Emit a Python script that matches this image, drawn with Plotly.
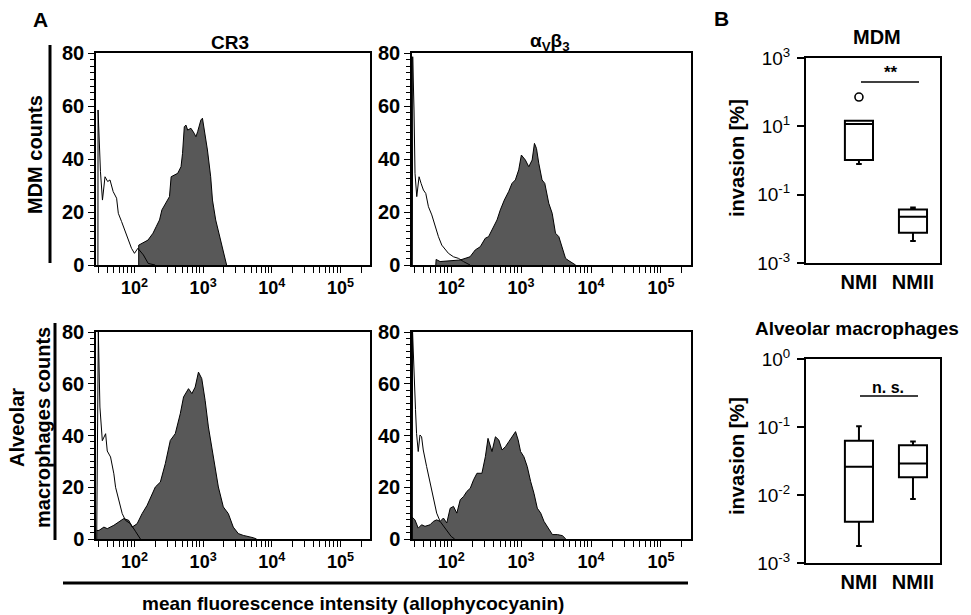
import numpy as np
import plotly.graph_objects as go

W, H = 971, 615
FONT = "Liberation Sans, Arial, sans-serif"

# ---------------- Panel A data (x in log10 intensity, y = counts) ----------------
cr3_mdm_stain_log = [2.062, 2.062, 2.197, 2.27, 2.317, 2.365, 2.40, 2.462, 2.51, 2.534, 2.63, 2.678, 2.70,
                     2.726, 2.75, 2.775, 2.822, 2.87, 2.895, 2.92, 2.967, 2.99, 3.025, 3.063, 3.11, 3.136,
                     3.183, 3.23, 3.28, 3.313, 3.342]
cr3_mdm_stain_cnt = [0, 7.5, 9.4, 12, 14.5, 17, 20.8, 23.9, 25.8, 33.3, 34.6, 37.1, 42.1, 52.2, 52.8, 50.9,
                     51.6, 49.7, 48.4, 50.3, 54.7, 55.4, 49.7, 43.4, 33.3, 24.5, 17, 12, 6.9, 3.1, 0]
cr3_mdm_iso_log = [1.468, 1.47, 1.505, 1.534, 1.571, 1.61, 1.644, 1.69, 1.74, 1.765, 1.812, 1.86, 1.91,
                   1.957, 2.0, 2.05, 2.13, 2.2, 2.3]
cr3_mdm_iso_cnt = [0, 58.5, 35.2, 24.5, 33.3, 31.5, 32.1, 27.7, 25.2, 19.5, 16.4, 13.2, 10.1, 6.3, 4.4,
                   6.3, 3.8, 0.6, 0]

avb3_mdm_stain_log = [1.78, 1.785, 1.842, 2.13, 2.27, 2.345, 2.416, 2.488, 2.535, 2.584, 2.656, 2.703, 2.76,
                      2.822, 2.87, 2.918, 2.966, 3.004, 3.062, 3.11, 3.158, 3.191, 3.22, 3.253, 3.30, 3.339,
                      3.396, 3.445, 3.492, 3.54, 3.588, 3.636, 3.684, 3.755, 3.78]
avb3_mdm_stain_cnt = [0, 2.1, 1.3, 1.9, 3.1, 5.7, 6.9, 10.1, 10.7, 13.2, 17, 20.8, 24.5, 27.7, 30.8, 32.1,
                      35.9, 41.5, 39.6, 37.1, 39.6, 45.9, 44, 38.4, 32.1, 30.8, 23.3, 19.5, 12, 10.7, 6.3,
                      2.5, 1.6, 0.6, 0]
avb3_mdm_iso_log = [1.445, 1.45, 1.469, 1.483, 1.508, 1.541, 1.57, 1.603, 1.637, 1.675, 1.723, 1.77, 1.818,
                    1.866, 1.914, 1.961, 2.033, 2.105, 2.176, 2.27]
avb3_mdm_iso_cnt = [0, 78.6, 58.5, 34.6, 25.8, 33.3, 30.8, 28.3, 27, 22, 18.9, 14.5, 10.7, 7.5, 5.7, 4.4,
                    3.1, 2.5, 1.3, 0]

cr3_am_stain_log = [1.45, 1.483, 1.555, 1.604, 1.70, 1.772, 1.845, 1.917, 1.966, 2.039, 2.111, 2.184, 2.256,
                    2.304, 2.377, 2.449, 2.522, 2.594, 2.667, 2.715, 2.787, 2.836, 2.884, 2.932, 2.98, 3.029,
                    3.077, 3.149, 3.222, 3.294, 3.367, 3.439, 3.512, 3.584, 3.657, 3.729, 3.778]
cr3_am_stain_cnt = [3.3, 3.3, 4.6, 4.0, 5.3, 6.6, 7.9, 7.2, 4.6, 5.9, 9.8, 13, 16.9, 20.1, 22, 29.1, 38.1,
                    40.7, 48.4, 54.9, 58.1, 56.2, 58.7, 64.5, 62, 53.6, 43.3, 31.7, 20.1, 12.4, 9.8, 4.6,
                    2.1, 1.4, 1.0, 0.5, 0]
cr3_am_iso_log = [1.45, 1.474, 1.497, 1.532, 1.58, 1.604, 1.652, 1.70, 1.725, 1.772, 1.822, 1.87, 1.942,
                  2.014, 2.087]
cr3_am_iso_cnt = [0, 80, 51, 38, 40.7, 34, 31.7, 25.2, 20, 15, 9.8, 7.2, 5.9, 3, 0]

avb3_am_stain_log = [1.433, 1.482, 1.529, 1.577, 1.626, 1.698, 1.745, 1.793, 1.842, 1.889, 1.937, 1.986,
                     2.033, 2.081, 2.13, 2.177, 2.225, 2.273, 2.321, 2.369, 2.44, 2.489, 2.527, 2.561, 2.584,
                     2.633, 2.681, 2.728, 2.777, 2.824, 2.872, 2.921, 2.958, 2.993, 3.04, 3.088, 3.137,
                     3.184, 3.232, 3.281, 3.328, 3.40, 3.448, 3.52, 3.591, 3.64]
avb3_am_stain_cnt = [8.7, 7.4, 4.2, 5.5, 4.9, 5.5, 6.8, 7.4, 6.8, 8.1, 6.2, 11.9, 12.6, 10, 15.2, 16.4,
                     18.4, 19.6, 22.9, 25.4, 25.4, 31.8, 38.9, 35.7, 33.8, 39.5, 38.3, 34.4, 35.7, 37.6,
                     39.5, 41.5, 38.3, 33.8, 31.8, 28, 22.2, 17.7, 11.9, 10, 6.8, 3.6, 1.7, 1.7, 1.3, 0]
avb3_am_iso_log = [1.445, 1.448, 1.49, 1.505, 1.529, 1.554, 1.577, 1.601, 1.649, 1.698, 1.745, 1.793,
                   1.842, 1.914, 2.0, 2.05]
avb3_am_iso_cnt = [0, 80, 50, 40.8, 33.8, 40.2, 39.5, 34.4, 28, 21.6, 15.8, 10, 6.8, 4, 1, 0]

hist_xticks = [100, 1000, 10000, 100000]
hist_xticktext = ["10<sup>2</sup>", "10<sup>3</sup>", "10<sup>4</sup>", "10<sup>5</sup>"]
hist_yticks = [0, 20, 40, 60, 80]

# ---------------- Panel B data (box statistics, invasion %) ----------------
groups = ["NMI", "NMII"]
mdm_q1 = [1.03, 0.0077]
mdm_median = [11.7, 0.0226]
mdm_q3 = [14.6, 0.037]
mdm_low = [0.79, 0.0044]
mdm_high = [14.6, 0.042]
mdm_outlier_group = ["NMI"]
mdm_outlier_val = [72]

am_q1 = [0.00405, 0.0182]
am_median = [0.026, 0.029]
am_q3 = [0.063, 0.054]
am_low = [0.00178, 0.0087]
am_high = [0.103, 0.061]

mdm_yticks = [1e-3, 1e-1, 1e1, 1e3]
mdm_yticktext = ["10<sup>-3</sup>", "10<sup>-1</sup>", "10<sup>1</sup>", "10<sup>3</sup>"]
am_yticks = [1e-3, 1e-2, 1e-1, 1]
am_yticktext = ["10<sup>-3</sup>", "10<sup>-2</sup>", "10<sup>-1</sup>", "10<sup>0</sup>"]


def px(x):
    return x / W


def py(y):
    return 1 - y / H


fig = go.Figure()

GRAY = "#585858"
panels = [
    ("x", "y", cr3_mdm_stain_log, cr3_mdm_stain_cnt, cr3_mdm_iso_log, cr3_mdm_iso_cnt),
    ("x2", "y2", avb3_mdm_stain_log, avb3_mdm_stain_cnt, avb3_mdm_iso_log, avb3_mdm_iso_cnt),
    ("x3", "y3", cr3_am_stain_log, cr3_am_stain_cnt, cr3_am_iso_log, cr3_am_iso_cnt),
    ("x4", "y4", avb3_am_stain_log, avb3_am_stain_cnt, avb3_am_iso_log, avb3_am_iso_cnt),
]
for xa, ya, sl, sc, il, ic in panels:
    fig.add_trace(go.Scatter(x=np.power(10.0, sl), y=sc, mode="lines", fill="tozeroy",
                             fillcolor=GRAY, line=dict(color="black", width=1),
                             xaxis=xa, yaxis=ya, showlegend=False, hoverinfo="skip"))
    fig.add_trace(go.Scatter(x=np.power(10.0, il), y=ic, mode="lines",
                             line=dict(color="black", width=1),
                             xaxis=xa, yaxis=ya, showlegend=False, hoverinfo="skip"))


def add_boxes(xa, ya, q1, med, q3, lo, hi):
    for i, g in enumerate(groups):
        fig.add_trace(go.Box(x=[g], q1=[q1[i]], median=[med[i]], q3=[q3[i]],
                             lowerfence=[lo[i]], upperfence=[hi[i]],
                             boxpoints=False, width=0.52, whiskerwidth=0.2,
                             fillcolor="white", line=dict(color="black", width=2),
                             xaxis=xa, yaxis=ya, showlegend=False, hoverinfo="skip"))


add_boxes("x5", "y5", mdm_q1, mdm_median, mdm_q3, mdm_low, mdm_high)
fig.add_trace(go.Scatter(x=mdm_outlier_group, y=mdm_outlier_val, mode="markers",
                         marker=dict(symbol="circle-open", size=8, color="black", line=dict(width=1.6)),
                         xaxis="x5", yaxis="y5", showlegend=False, hoverinfo="skip"))
add_boxes("x6", "y6", am_q1, am_median, am_q3, am_low, am_high)

minor_vals = [m * 10 ** e for e in range(1, 6) for m in range(2, 10)]

hist_x = dict(type="log", range=[1.44, 5.43], tickvals=hist_xticks, ticktext=hist_xticktext,
              ticks="outside", ticklen=6, tickwidth=1.2, tickcolor="black",
              minor=dict(tickvals=minor_vals, ticks="outside", ticklen=6, tickwidth=1.2, tickcolor="black"),
              showline=True, mirror=True, linecolor="black", linewidth=1.5, automargin=False,
              showgrid=False, zeroline=False,
              tickfont=dict(family=FONT, size=18, color="black", weight="bold"))
hist_y = dict(range=[0, 80], tickvals=hist_yticks, ticks="outside", ticklen=6, tickwidth=1.2,
              tickcolor="black", automargin=False,
              minor=dict(dtick=2.5, ticks="outside", ticklen=4, tickwidth=1, tickcolor="black"),
              showline=True, mirror=True, linecolor="black", linewidth=1.5,
              showgrid=False, zeroline=False, tickfont=dict(family=FONT, size=20, color="black", weight="bold"))

yd_top = [py(265), py(53)]
yd_bot = [py(539), py(332)]
layout = dict(
    template="none",
    width=W, height=H, margin=dict(l=0, r=0, t=0, b=0, pad=0, autoexpand=False),
    paper_bgcolor="white", plot_bgcolor="white", showlegend=False,
    font=dict(family=FONT, color="black"),
    xaxis=dict(hist_x, domain=[px(96), px(370)], anchor="y"),
    yaxis=dict(hist_y, domain=yd_top, anchor="x"),
    xaxis2=dict(hist_x, domain=[px(412), px(691)], anchor="y2"),
    yaxis2=dict(hist_y, domain=yd_top, anchor="x2"),
    xaxis3=dict(hist_x, domain=[px(96), px(370)], anchor="y3"),
    yaxis3=dict(hist_y, domain=yd_bot, anchor="x3"),
    xaxis4=dict(hist_x, domain=[px(412), px(691)], anchor="y4"),
    yaxis4=dict(hist_y, domain=yd_bot, anchor="x4"),
)

box_x = dict(type="category", categoryorder="array", categoryarray=groups, range=[-0.98, 1.5],
             showline=True, mirror=True, linecolor="black", linewidth=2, ticks="", ticklen=0,
             automargin=False, showgrid=False, zeroline=False,
             tickfont=dict(family=FONT, size=20, color="black", weight="bold"))
box_y = dict(type="log", ticks="outside", ticklen=7, tickwidth=2, tickcolor="black", automargin=False,
             showline=True, mirror=True, linecolor="black", linewidth=2, ticklabelstandoff=3,
             showgrid=False, zeroline=False, tickfont=dict(family=FONT, size=19, color="black"))
layout["xaxis5"] = dict(box_x, domain=[px(806), px(940)], anchor="y5")
layout["yaxis5"] = dict(box_y, domain=[py(263), py(58)], anchor="x5", range=[-3, 3],
                        tickvals=mdm_yticks, ticktext=mdm_yticktext)
layout["xaxis6"] = dict(box_x, domain=[px(806), px(940)], anchor="y6")
layout["yaxis6"] = dict(box_y, domain=[py(563), py(359)], anchor="x6", range=[-3, 0],
                        tickvals=am_yticks, ticktext=am_yticktext)
fig.update_layout(**layout)


def ann(text, x, y, size=16, bold=True, angle=0, xanchor="center"):
    fig.add_annotation(text=text, x=px(x), y=py(y), xref="paper", yref="paper",
                       showarrow=False, textangle=angle, xanchor=xanchor, yanchor="middle",
                       font=dict(family=FONT, size=size, color="black",
                                 weight="bold" if bold else "normal"))


ann("A", 40, 20, size=21)
ann("B", 721, 19, size=21)
ann("CR3", 230, 42, size=19)
ann("α<sub>V</sub>β<sub>3</sub>", 550, 42, size=19)
ann("MDM counts", 35, 155, size=20, angle=-90)
ann("Alveolar<br>macrophages counts", 30, 428, size=20, angle=-90)
ann("mean fluorescence intensity (allophycocyanin)", 353, 603, size=19)
ann("MDM", 877, 37, size=20)
ann("Alveolar macrophages", 857, 328, size=19)
ann("invasion [%]", 737, 158, size=20, angle=-90)
ann("invasion [%]", 737, 456, size=20, angle=-90)
ann("**", 891, 73, size=17)
ann("n. s.", 888, 387, size=16)

for x0, y0, x1, y1, w in [(50, 45, 50, 263, 3), (55, 323, 55, 540, 3), (63, 583, 688, 583, 3),
                          (861, 82, 919, 82, 1.5), (860, 396, 918, 396, 1.5)]:
    fig.add_shape(type="line", xref="paper", yref="paper", x0=px(x0), y0=py(y0), x1=px(x1), y1=py(y1),
                  line=dict(color="black", width=w))

fig.write_html("out.html", config={"displayModeBar": False},
               post_script="document.body.style.margin='0px';document.body.style.overflow='hidden';")
